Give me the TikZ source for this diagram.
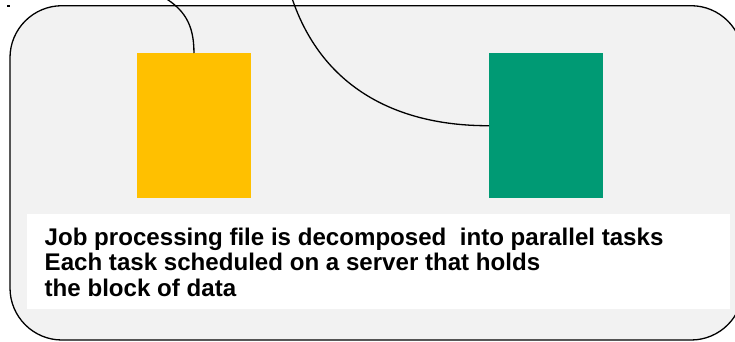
\documentclass[tikz,border=0pt]{standalone}
\usepackage{fontspec}
\setmainfont{Liberation Sans}
\begin{document}
\begin{tikzpicture}[x=1pt,y=-1pt,
  block/.style={draw=none,minimum width=113.5pt,minimum height=145pt,inner sep=0pt,anchor=north west},
  wire/.style={draw=black,line width=1.3pt},
  caption/.style={font=\bfseries\fontsize{24.1}{25.8}\selectfont,align=left,anchor=north west,inner sep=0pt}]
\useasboundingbox (0,0) rectangle (735,341);
\begin{scope}
\clip (0,0) rectangle (735,341);
% rounded frame
\draw[fill={rgb,255:red,242;green,242;blue,242},line width=1.3pt,rounded corners=52pt]
  (10,5.7) rectangle (743,340);
% data blocks
\node[block,fill={rgb,255:red,255;green,192;blue,0}] (yel) at (137,53) {};
\node[block,fill={rgb,255:red,0;green,154;blue,116}] (grn) at (489,53) {};
% incoming links
\coordinate (ya) at (158,-6);
\coordinate (ga) at (290,-8);
\draw[wire] (ya) .. controls (185,8) and (194,25) .. (yel.north);
\draw[wire] (ga) .. controls (320,90) and (400,126) .. (grn.west);
% caption panel
\node[fill=white,minimum width=703pt,minimum height=95pt,inner sep=0pt,anchor=north west] (panel) at (27,214) {};
\node[caption] (txt) at (44.5,227.4) {Job processing file is decomposed\ \ into parallel tasks\\Each task scheduled on a server that holds\\the block of data};
% small tick
\draw[line width=1.3pt] (7,6) -- (10,6);
\end{scope}
\end{tikzpicture}
\end{document}
